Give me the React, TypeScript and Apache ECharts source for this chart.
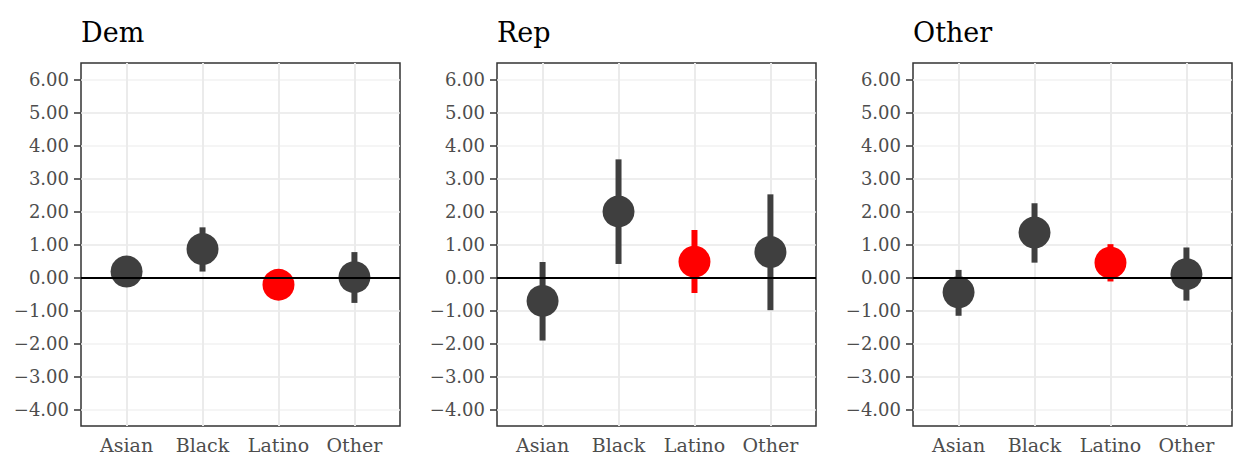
import React, { useEffect, useRef } from "react";
import * as echarts from "echarts";

const categories = ["Asian", "Black", "Latino", "Other"];
const panelTitles = ["Dem", "Rep", "Other"];
const highlighted = [false, false, true, false];

const demEst = [0.18, 0.86, -0.22, 0.01];
const demLo = [-0.05, 0.18, -0.42, -0.77];
const demHi = [0.4, 1.52, -0.02, 0.77];

const repEst = [-0.71, 2.0, 0.48, 0.77];
const repLo = [-1.91, 0.41, -0.47, -0.99];
const repHi = [0.47, 3.58, 1.44, 2.52];

const othEst = [-0.45, 1.36, 0.45, 0.1];
const othLo = [-1.16, 0.45, -0.12, -0.7];
const othHi = [0.23, 2.25, 1.01, 0.91];

const yTicks = [-4, -3, -2, -1, 0, 1, 2, 3, 4, 5, 6];

const FONT = "DejaVu Serif";
const DARK = "#3f3f3f";
const RED = "#ff0000";

export default function App() {
  const ref = useRef<HTMLDivElement>(null);
  useEffect(() => {
    if (!ref.current) return;
    const chart = echarts.init(ref.current, null, { renderer: "svg" });
    const panels = [
      { est: demEst, lo: demLo, hi: demHi },
      { est: repEst, lo: repLo, hi: repHi },
      { est: othEst, lo: othLo, hi: othHi },
    ];
    const lefts = [81, 497, 913];
    const grids = lefts.map((l) => ({
      left: l,
      width: 319,
      top: 63,
      height: 363,
      show: true,
      borderColor: "#333333",
      borderWidth: 1.5,
      backgroundColor: "#ffffff",
    }));
    const xAxes = lefts.map((_, i) => ({
      type: "value",
      gridIndex: i,
      min: 0.4,
      max: 4.6,
      axisLine: { show: false },
      splitLine: { show: false },
      axisTick: {
        show: true,
        customValues: [1, 2, 3, 4],
        length: 7,
        lineStyle: { color: "#333333", width: 1.5 },
      },
      axisLabel: {
        customValues: [1, 2, 3, 4],
        formatter: (v: number) => categories[Math.round(v) - 1] ?? "",
        color: "#4d4d4d",
        fontFamily: FONT,
        fontSize: 19,
        margin: 9,
      },
    }));
    const yAxes = lefts.map((_, i) => ({
      type: "value",
      gridIndex: i,
      min: -4.5,
      max: 6.5,
      interval: 0.5,
      axisLine: { show: false },
      splitLine: {
        show: true,
        lineStyle: { color: ["#f2f2f2", "#e8e8e8"], width: 1.6 },
      },
      axisTick: {
        show: true,
        customValues: yTicks,
        length: 7,
        lineStyle: { color: "#333333", width: 1.5 },
      },
      axisLabel: {
        customValues: yTicks,
        formatter: (v: number) =>
          v < 0 ? "\u2212" + Math.abs(v).toFixed(2) : v.toFixed(2),
        color: "#4d4d4d",
        fontFamily: FONT,
        fontSize: 18,
        margin: 12,
      },
    }));
    const series: any[] = [];
    panels.forEach((p, i) => {
      series.push({
        type: "scatter",
        xAxisIndex: i,
        yAxisIndex: i,
        data: [],
        z: 1,
        silent: true,
        markLine: {
          z: 1,
          silent: true,
          symbol: "none",
          label: { show: false },
          lineStyle: { color: "#ebebeb", width: 2, type: "solid" },
          data: categories.map((_, k) => ({ xAxis: k + 1 })),
        },
      });
      series.push({
        type: "custom",
        xAxisIndex: i,
        yAxisIndex: i,
        z: 2,
        encode: { x: 0, y: [1, 2] },
        data: categories.map((_, k) => [k + 1, p.lo[k], p.hi[k], highlighted[k] ? 1 : 0]),
        renderItem: (_params: any, api: any) => {
          const x = api.value(0);
          const top = api.coord([x, api.value(2)]);
          const bot = api.coord([x, api.value(1)]);
          return {
            type: "rect",
            shape: { x: top[0] - 3, y: top[1], width: 6, height: bot[1] - top[1] },
            style: { fill: api.value(3) ? RED : DARK },
          };
        },
      });
      series.push({
        type: "scatter",
        xAxisIndex: i,
        yAxisIndex: i,
        z: 3,
        symbolSize: 32,
        data: categories.map((_, k) => ({
          value: [k + 1, p.est[k]],
          itemStyle: { color: highlighted[k] ? RED : DARK, opacity: 1 },
        })),
      });
      series.push({
        type: "scatter",
        xAxisIndex: i,
        yAxisIndex: i,
        data: [],
        z: 10,
        silent: true,
        markLine: {
          z: 10,
          silent: true,
          symbol: "none",
          label: { show: false },
          lineStyle: { color: "#000000", width: 2, type: "solid" },
          data: [{ yAxis: 0 }],
        },
      });
    });
    chart.setOption({
      animation: false,
      backgroundColor: "#ffffff",
      title: panelTitles.map((t, i) => ({
        text: t,
        left: lefts[i],
        top: 19,
        padding: 0,
        textStyle: {
          fontFamily: FONT,
          fontSize: 27,
          fontWeight: "normal",
          color: "#000000",
        },
      })),
      grid: grids,
      xAxis: xAxes,
      yAxis: yAxes,
      series,
    });
    return () => chart.dispose();
  }, []);
  return (
    <div
      ref={ref}
      style={{ position: "absolute", left: 0, top: 0, width: 1235, height: 466 }}
    />
  );
}
